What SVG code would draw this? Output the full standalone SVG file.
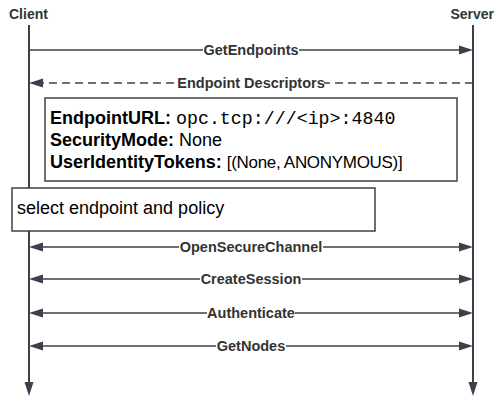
<svg xmlns="http://www.w3.org/2000/svg" width="496" height="396" viewBox="0 0 496 396">
<defs>
<marker id="ah" markerUnits="userSpaceOnUse" markerWidth="14" markerHeight="10" refX="0" refY="5" orient="auto-start-reverse" viewBox="0 0 14 10">
<path d="M0,0.5 L14,5 L0,9.5 z" fill="#3a414a"/>
</marker>
<style>
.life{stroke:#3a414a;stroke-width:2;fill:none}
.msg{stroke:#3a414a;stroke-width:1.5;fill:none}
.dash{stroke-dasharray:8 5}
.lbl{font-family:"Liberation Sans",Arial,sans-serif;font-weight:bold;font-size:14.5px;fill:#333;text-anchor:middle}
.hdr{font-family:"Liberation Sans",Arial,sans-serif;font-weight:bold;font-size:14px;fill:#333}
.bg{fill:#fff}
.box{fill:#fff;stroke:#3a414a;stroke-width:1.5}
.bt{font-family:"Liberation Sans",Arial,sans-serif;font-size:18px;fill:#000}
.b{font-weight:bold}
.mono{font-family:"Liberation Mono","Courier New",monospace;font-size:18.3px}
.tight{font-size:17px;letter-spacing:-0.3px}
</style>
</defs>
<g id="client">
<text class="hdr" x="9" y="19">Client</text>
<line class="life" x1="29" y1="25" x2="29" y2="382" marker-end="url(#ah)"/>
</g>
<g id="server">
<text class="hdr" x="494" y="19" text-anchor="end">Server</text>
<line class="life" x1="473" y1="25" x2="473" y2="382" marker-end="url(#ah)"/>
</g>
<g id="connectors">
<line class="msg" x1="29" y1="50" x2="459" y2="50" marker-end="url(#ah)"/>
<rect class="bg" x="203" y="42" width="96" height="16"/>
<text class="lbl" x="251" y="55">GetEndpoints</text>
<line class="msg dash" x1="473" y1="83" x2="43" y2="83" marker-end="url(#ah)"/>
<rect class="bg" x="178" y="75" width="146" height="16"/>
<text class="lbl" x="251" y="88">Endpoint Descriptors</text>
<line class="msg" x1="43" y1="247" x2="459" y2="247" marker-start="url(#ah)" marker-end="url(#ah)"/>
<rect class="bg" x="179" y="239" width="144" height="16"/>
<text class="lbl" x="251" y="252">OpenSecureChannel</text>
<line class="msg" x1="43" y1="279" x2="459" y2="279" marker-start="url(#ah)" marker-end="url(#ah)"/>
<rect class="bg" x="200" y="271" width="102" height="16"/>
<text class="lbl" x="251" y="284">CreateSession</text>
<line class="msg" x1="43" y1="313" x2="459" y2="313" marker-start="url(#ah)" marker-end="url(#ah)"/>
<rect class="bg" x="207" y="305" width="88" height="16"/>
<text class="lbl" x="251" y="318">Authenticate</text>
<line class="msg" x1="43" y1="346" x2="459" y2="346" marker-start="url(#ah)" marker-end="url(#ah)"/>
<rect class="bg" x="216" y="338" width="70" height="16"/>
<text class="lbl" x="251" y="351">GetNodes</text>
</g>
<g id="endpoint-box">
<rect class="box" x="45" y="98" width="412" height="83"/>
<text class="bt" x="50" y="124"><tspan class="b">EndpointURL:</tspan> <tspan class="mono">opc.tcp:///&lt;ip&gt;:4840</tspan></text>
<text class="bt" x="50" y="146"><tspan class="b">SecurityMode:</tspan> None</text>
<text class="bt" x="50" y="168"><tspan class="b">UserIdentityTokens:</tspan> <tspan class="tight">[(None, ANONYMOUS)]</tspan></text>
</g>
<g id="select-box">
<rect class="box" x="12" y="188" width="363" height="43"/>
<text class="bt" x="17" y="214">select endpoint and policy</text>
</g>
</svg>
